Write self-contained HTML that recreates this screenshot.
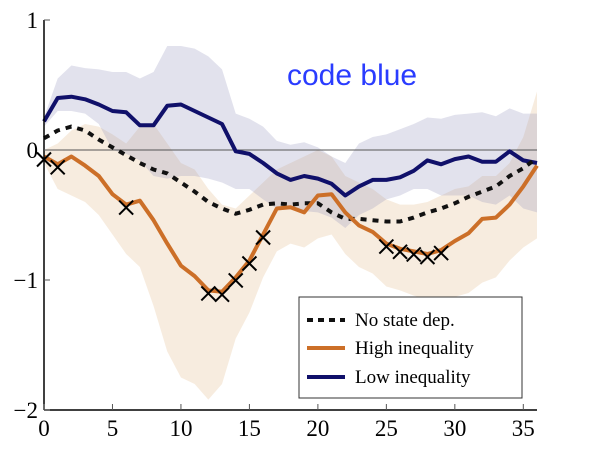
<!DOCTYPE html>
<html><head><meta charset="utf-8"><style>
body{margin:0;background:#fff}
svg{display:block}
text{font-family:"Liberation Serif",serif}
</style></head><body>
<svg id="chart" width="607" height="453" xmlns="http://www.w3.org/2000/svg">
<text x="287" y="85" font-size="30" fill="#2a3cff" style="font-family:'Liberation Sans',sans-serif">code blue</text>
<g id="bands"></g><g id="lines"></g><g id="axes"></g>
<g>
<rect x="299" y="297" width="223" height="101" fill="#fff" stroke="#333" stroke-width="1"/>
<g><line x1="307" y1="320" x2="345" y2="320" stroke="#111" stroke-width="4" stroke-dasharray="6,5"/><text x="355" y="326" font-size="19">No state dep.</text></g>
<g><line x1="307" y1="348" x2="345" y2="348" stroke="#cc6f28" stroke-width="4"/><text x="355" y="354" font-size="19">High inequality</text></g>
<g><line x1="307" y1="377" x2="345" y2="377" stroke="#10106a" stroke-width="4"/><text x="355" y="383" font-size="19">Low inequality</text></g>
</g>
</svg>
<script>
const horizons=[...Array(37).keys()];
const noStateDep=[0.09,0.15,0.18,0.15,0.08,0.02,-0.04,-0.1,-0.15,-0.18,-0.25,-0.32,-0.40,-0.45,-0.49,-0.46,-0.42,-0.41,-0.42,-0.41,-0.41,-0.48,-0.53,-0.53,-0.54,-0.55,-0.55,-0.52,-0.48,-0.45,-0.41,-0.36,-0.32,-0.28,-0.2,-0.14,-0.06];
const highIneq=[-0.05,-0.11,-0.05,-0.12,-0.2,-0.34,-0.42,-0.39,-0.54,-0.72,-0.89,-0.97,-1.08,-1.09,-0.98,-0.85,-0.65,-0.45,-0.44,-0.48,-0.35,-0.34,-0.48,-0.58,-0.63,-0.72,-0.76,-0.78,-0.80,-0.77,-0.70,-0.64,-0.53,-0.52,-0.42,-0.28,-0.12];
const lowIneq=[0.22,0.40,0.41,0.39,0.35,0.30,0.29,0.19,0.19,0.34,0.35,0.30,0.25,0.20,-0.01,-0.03,-0.10,-0.18,-0.23,-0.20,-0.22,-0.26,-0.35,-0.28,-0.23,-0.23,-0.21,-0.16,-0.08,-0.11,-0.07,-0.05,-0.09,-0.09,-0.01,-0.08,-0.10];
const lowUpper=[0.25,0.55,0.65,0.63,0.62,0.6,0.6,0.55,0.6,0.8,0.8,0.78,0.72,0.62,0.28,0.24,0.18,0.07,0.04,0.06,0.02,-0.05,-0.1,0.05,0.1,0.12,0.16,0.2,0.25,0.24,0.27,0.28,0.29,0.26,0.32,0.28,0.28];
const lowLower=[0.18,0.3,0.3,0.28,0.2,0.0,-0.03,-0.08,-0.2,-0.22,-0.2,-0.2,-0.22,-0.25,-0.3,-0.3,-0.38,-0.45,-0.45,-0.47,-0.48,-0.52,-0.6,-0.5,-0.45,-0.38,-0.35,-0.3,-0.3,-0.35,-0.35,-0.35,-0.4,-0.42,-0.35,-0.45,-0.48];
const highUpper=[0.0,0.05,0.15,0.2,0.18,0.12,0.05,0.18,0.2,0.05,-0.1,-0.15,-0.3,-0.42,-0.45,-0.35,-0.25,-0.15,-0.1,-0.05,0.0,-0.05,-0.2,-0.25,-0.3,-0.38,-0.42,-0.42,-0.4,-0.35,-0.3,-0.28,-0.2,-0.2,-0.1,0.1,0.45];
const highLower=[-0.1,-0.3,-0.35,-0.4,-0.5,-0.65,-0.8,-0.9,-1.2,-1.55,-1.75,-1.8,-1.92,-1.8,-1.45,-1.25,-0.98,-0.78,-0.72,-0.75,-0.68,-0.65,-0.8,-0.9,-0.95,-1.05,-1.08,-1.12,-1.15,-1.15,-1.13,-1.1,-1.02,-0.98,-0.85,-0.75,-0.68];
const significant=[0,1,6,12,13,14,15,16,25,26,27,28,29];
const xTicks=[0,5,10,15,20,25,30,35];
const yTicks=[1,0,-1,-2];
const yTickLabels=["1","0","\u22121","\u22122"];

const NS="http://www.w3.org/2000/svg";
const X=v=>44+v*(493/36), Y=v=>150-v*130;
function mk(tag,attrs,parent){const e=document.createElementNS(NS,tag);for(const k in attrs)e.setAttribute(k,attrs[k]);parent.appendChild(e);return e;}
const bands=document.getElementById('bands'),lines=document.getElementById('lines'),axes=document.getElementById('axes');
function band(up,lo,fill,op,name){
  const pts=horizons.map(i=>X(i)+','+Y(up[i])).concat(horizons.slice().reverse().map(i=>X(i)+','+Y(lo[i])));
  const p=mk('polygon',{points:pts.join(' '),fill:fill,'fill-opacity':op},bands);
  
  
}
band(highUpper,highLower,'#e8c9a4',0.35,'high-inequality-band');
band(lowUpper,lowLower,'#8c8cb8',0.25,'low-inequality-band');
const zl=mk('line',{x1:44,x2:537,y1:Y(0),y2:Y(0),stroke:'#555','stroke-width':1},lines);


function line(d,stroke,dash,name){
  const p=mk('polyline',{points:horizons.map(i=>X(i)+','+Y(d[i])).join(' '),fill:'none',stroke:stroke,'stroke-width':4,'stroke-dasharray':dash,'stroke-linejoin':'round'},lines);
  
  
}
line(lowIneq,'#10106a','none','low-inequality-line');
line(noStateDep,'#111','6,6','no-state-dep-line');
line(highIneq,'#cc6f28','none','high-inequality-line');
significant.forEach(i=>{
  const cx=X(i),cy=Y(highIneq[i])+3,s=7;
  const g=mk('path',{d:`M${cx-s},${cy-s}L${cx+s},${cy+s}M${cx-s},${cy+s}L${cx+s},${cy-s}`,stroke:'#000','stroke-width':2},lines);
  
  
});
mk('line',{x1:44,x2:44,y1:20,y2:410,stroke:'#000','stroke-width':1.5},axes);
mk('line',{x1:44,x2:537,y1:410,y2:410,stroke:'#000','stroke-width':1.5},axes);
xTicks.forEach(t=>{
  mk('line',{x1:X(t),x2:X(t),y1:410,y2:404,stroke:'#555'},axes);
  const tx=mk('text',{x:X(t),y:436,'font-size':23,'text-anchor':'middle'},axes);
  tx.textContent=t;
  
  
});
yTicks.forEach((t,k)=>{
  mk('line',{x1:44,x2:50,y1:Y(t),y2:Y(t),stroke:'#555'},axes);
  const tx=mk('text',{x:38,y:Y(t)+8,'font-size':23,'text-anchor':'end'},axes);
  tx.textContent=yTickLabels[k];
  
  
});
</script>
</body></html>
